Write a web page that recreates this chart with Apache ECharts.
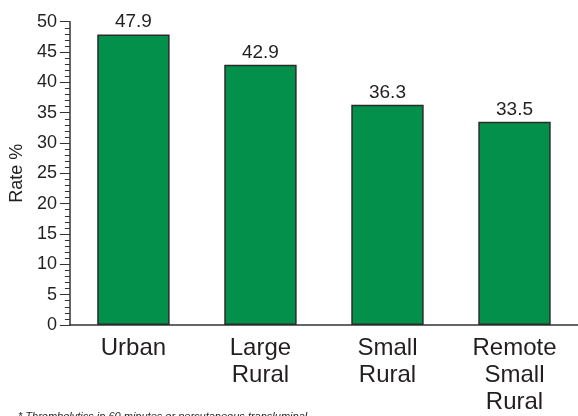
<!DOCTYPE html>
<html>
<head>
<meta charset="utf-8">
<script src="https://cdn.jsdelivr.net/npm/echarts@6/dist/echarts.min.js"></script>
<style>
    html, body { margin: 0; padding: 0; background: #fff; }
    #chart { width: 578px; height: 416px; }
</style>
</head>
<body>
<div id="chart"></div>
<script>
    var categories = ['Urban', 'Large\nRural', 'Small\nRural', 'Remote\nSmall\nRural'];
    var rates = [47.9, 42.9, 36.3, 33.5];
    var yTicks = [0, 5, 10, 15, 20, 25, 30, 35, 40, 45, 50];
    var footnote = '* Thrombolytics in 60 minutes or percutaneous transluminal';

    var textColor = '#231f20';
    var myChart = echarts.init(document.getElementById('chart'));

    var option = {
        animation: false,
        textStyle: {fontFamily: 'Liberation Sans, Arial, sans-serif'},
        grid: {
            left: 68,
            right: 0,
            top: 21.7,
            bottom: 89.3
        },
        xAxis: {
            type: 'category',
            data: categories,
            axisLine: {lineStyle: {color: '#333', width: 1.5}},
            axisTick: {show: false},
            axisLabel: {
                color: textColor,
                fontSize: 24,
                lineHeight: 27,
                margin: 10
            }
        },
        yAxis: {
            type: 'value',
            min: yTicks[0],
            max: yTicks[yTicks.length - 1],
            interval: 5,
            name: 'Rate %',
            nameLocation: 'middle',
            nameGap: 40,
            nameTextStyle: {color: textColor, fontSize: 18},
            axisLine: {show: true, lineStyle: {color: '#333', width: 1.5}},
            axisTick: {show: true, length: 10, lineStyle: {color: '#333'}},
            minorTick: {show: true, splitNumber: 5, length: 5, lineStyle: {color: '#333'}},
            splitLine: {show: false},
            axisLabel: {color: textColor, fontSize: 18, margin: 13}
        },
        graphic: [{
            type: 'text',
            left: 18,
            top: 411,
            style: {
                text: footnote,
                fill: textColor,
                font: 'italic 11px Liberation Sans, Arial, sans-serif'
            }
        }],
        series: [{
            type: 'bar',
            data: rates,
            barWidth: '57%',
            itemStyle: {
                color: '#03904a',
                borderColor: '#2b2b2b',
                borderWidth: 1.5
            },
            label: {
                show: true,
                position: 'top',
                distance: 3,
                color: textColor,
                fontSize: 19
            }
        }]
    };
    myChart.setOption(option);
</script>
</body>
</html>
